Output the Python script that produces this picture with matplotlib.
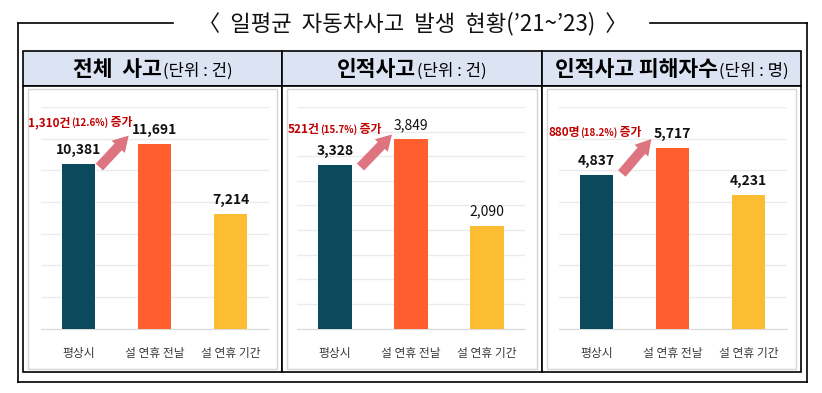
import matplotlib.pyplot as plt
from matplotlib.lines import Line2D
from matplotlib.patches import Rectangle
from matplotlib.offsetbox import TextArea, HPacker, AnnotationBbox

plt.rcParams['font.family'] = ['Noto Sans CJK KR', 'DejaVu Sans']

# --- data ---
title = "〈  일평균  자동차사고  발생  현황(’21~’23)  〉"
categories = ["평상시", "설 연휴 전날", "설 연휴 기간"]
panel_titles = ["전체  사고", "인적사고", "인적사고 피해자수"]
panel_units = ["(단위 : 건)", "(단위 : 건)", "(단위 : 명)"]
total_accidents = [10381, 11691, 7214]
injury_accidents = [3328, 3849, 2090]
injured_people = [4837, 5717, 4231]
increase_main = ["1,310건", "521건", "880명"]
increase_pct = ["(12.6%)", "(15.7%)", "(18.2%)"]

series = [total_accidents, injury_accidents, injured_people]
colors = ["#0B4A5C", "#FF5F2F", "#FDBD33"]
y_max = [14000, 4500, 7000]
y_step = [2000, 500, 1000]
label_bold = [[True, True, True], [True, False, False], [True, True, True]]

W, H = 822, 393
fig = plt.figure(figsize=(W / 100, H / 100), dpi=100)


def fx(px):
    return px / W


def fy(py):
    return 1 - py / H


def hline(x0, x1, y, **kw):
    fig.add_artist(Line2D([fx(x0), fx(x1)], [fy(y), fy(y)], **kw))


def vline(x, y0, y1, **kw):
    fig.add_artist(Line2D([fx(x), fx(x)], [fy(y0), fy(y1)], **kw))


# outer frame with the title breaking the top line
frame = dict(color="black", lw=1.2, zorder=-5)
hline(18, 173, 23, **frame)
hline(650, 807, 23, **frame)
hline(18, 807, 382, **frame)
vline(18, 23, 382, **frame)
vline(807, 23, 382, **frame)
fig.text(fx(413), fy(24), title, ha="center", va="center", fontsize=16, color="#111111")

# panel boxes
edges = [23, 282, 542, 801]
for i in range(3):
    x0, x1 = edges[i], edges[i + 1]
    fig.add_artist(Rectangle((fx(x0), fy(86)), fx(x1 - x0), fy(51) - fy(86),
                             facecolor="#DCE4F4", edgecolor="black", lw=1.2, zorder=-5))
    fig.add_artist(Rectangle((fx(x0), fy(372)), fx(x1 - x0), fy(86) - fy(372),
                             facecolor="white", edgecolor="black", lw=1.2, zorder=-5))
    fig.add_artist(Rectangle((fx(x0 + 5), fy(369)), fx(x1 - x0 - 10), fy(89) - fy(369),
                             facecolor="white", edgecolor="#D6D6D6", lw=1, zorder=-4))
    head = HPacker(children=[
        TextArea(panel_titles[i], textprops=dict(fontsize=15.5, fontweight="bold", color="black")),
        TextArea(panel_units[i], textprops=dict(fontsize=12, color="black")),
    ], align="baseline", pad=0, sep=1)
    fig.add_artist(AnnotationBbox(head, (fx((x0 + x1) / 2), fy(69)), xycoords="figure fraction",
                                  frameon=False, box_alignment=(0.5, 0.5)))

# chart areas
ax_left = [40.5, 297, 558.5]
arrow_start = [(0.25, 0.72), (0.27, 0.72), (0.27, 0.69)]
arrow_end = [(0.395, 0.88), (0.425, 0.885), (0.415, 0.865)]
note_pos = [(0.175, 0.93), (0.165, 0.90), (0.16, 0.887)]

for i, vals in enumerate(series):
    ax = fig.add_axes([fx(ax_left[i]), 64.5 / H, 228 / W, 221.5 / H])
    x = range(len(categories))
    bars = ax.bar(x, vals, width=0.44, color=colors, zorder=3)
    ax.set_xlim(-0.5, 2.5)
    ax.set_ylim(0, y_max[i])
    ax.set_yticks(range(0, y_max[i] + 1, y_step[i]))
    ax.set_yticklabels([])
    ax.set_xticks(list(x))
    ax.set_xticklabels(categories, fontsize=8.5, color="#3A3A3A")
    ax.tick_params(length=0, pad=13)
    ax.tick_params(axis="y", length=0, pad=0)
    ax.grid(axis="y", color="#EBEBEB", lw=1, zorder=0)
    for s in ["left", "right", "top"]:
        ax.spines[s].set_visible(False)
    ax.spines["bottom"].set_color("#D9D9D9")
    ax.patch.set_alpha(0)

    for j, (b, v) in enumerate(zip(bars, vals)):
        ax.annotate(f"{v:,}", (b.get_x() + b.get_width() / 2, v), xytext=(0, 5),
                    textcoords="offset points", ha="center", va="bottom", fontsize=10,
                    fontweight="bold" if label_bold[i][j] else "normal", color="#111111")

    ax.annotate("", xy=arrow_end[i], xytext=arrow_start[i], xycoords="axes fraction",
                arrowprops=dict(arrowstyle="simple,head_width=1.0,head_length=0.85,tail_width=0.55",
                                mutation_scale=13, color="#DD7480", lw=0))
    note = HPacker(children=[
        TextArea(increase_main[i], textprops=dict(fontsize=8.5, fontweight="bold", color="#C00000")),
        TextArea(increase_pct[i], textprops=dict(fontsize=7, fontweight="bold", color="#C00000")),
        TextArea(" 증가", textprops=dict(fontsize=8.5, fontweight="bold", color="#C00000")),
    ], align="baseline", pad=0, sep=0)
    ax.add_artist(AnnotationBbox(note, note_pos[i], xycoords="axes fraction",
                                 frameon=False, box_alignment=(0.5, 0.5)))

fig.savefig("out.png", dpi=100)
